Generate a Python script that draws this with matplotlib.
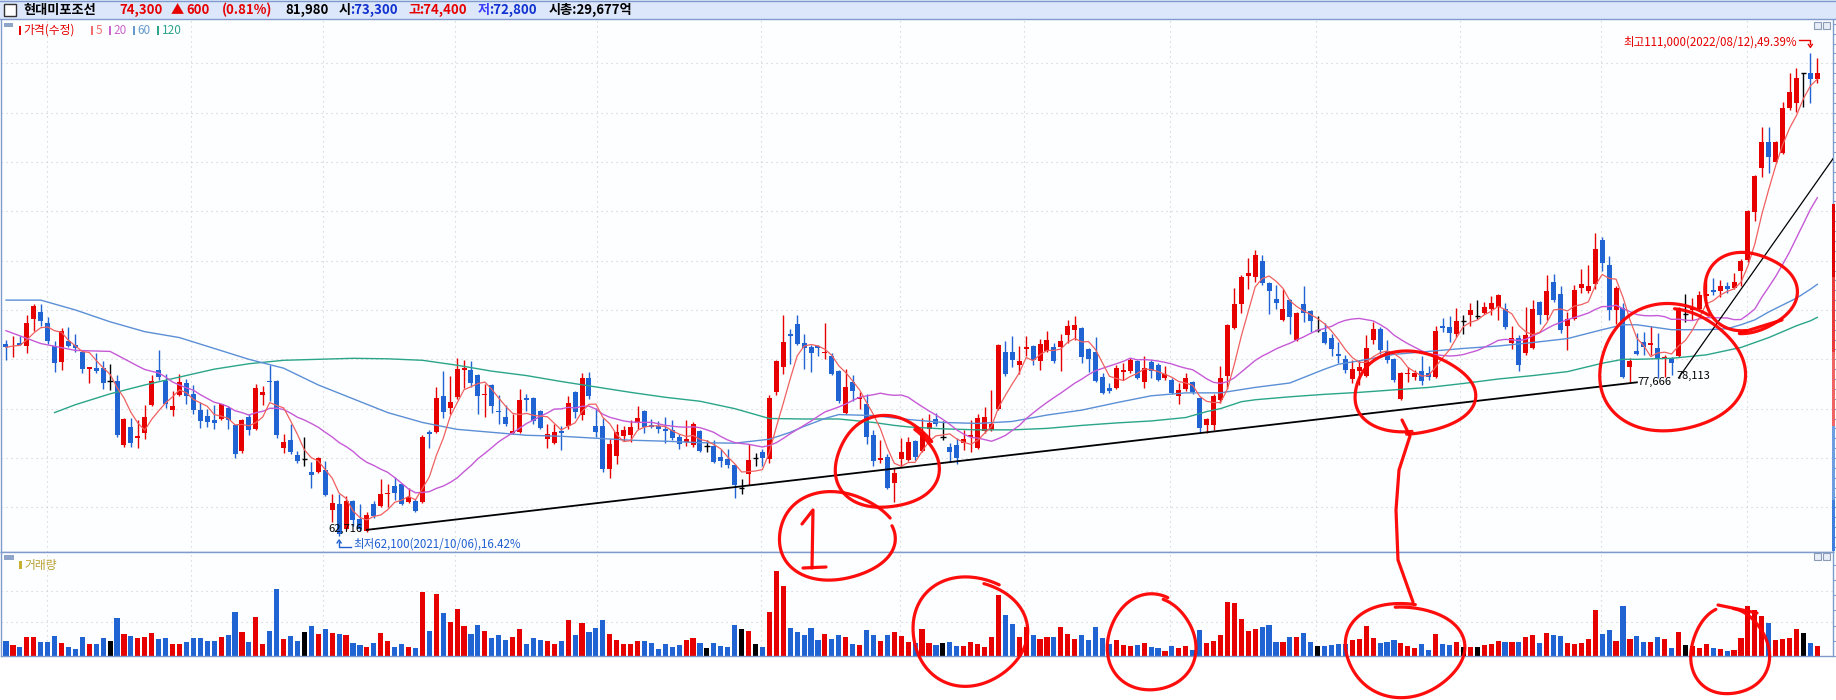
import numpy as np
import pandas as pd
import matplotlib
matplotlib.use("Agg")
import matplotlib.pyplot as plt
from matplotlib.patches import Rectangle

plt.rcParams['font.family'] = ['Noto Sans CJK KR', 'DejaVu Sans']

# ---- daily candles, thousands of won (2021/07 .. 2022/08) ----
open_k = [81.6, 81.4, 81.7, 81.3, 84.1, 84.8, 83.7, 81.3, 79.7, 81.9,
          81.4, 80.7, 79.0, 79.1, 79.1, 77.8, 77.8, 71.3, 73.1, 72.0,
          72.5, 75.4, 78.9, 77.8, 74.9, 76.4, 77.6, 76.5, 74.9, 74.3,
          73.8, 73.9, 75.1, 73.3, 70.7, 74.2, 72.9, 76.4, 77.8, 77.8,
          71.0, 71.8, 70.3, 69.9, 68.6, 68.6, 68.8, 64.7, 65.3, 62.8,
          65.6, 63.8, 62.6, 65.3, 65.1, 66.3, 67.2, 67.4, 65.5, 65.6,
          65.5, 72.6, 72.6, 76.3, 75.1, 76.2, 78.9, 78.9, 78.4, 76.4,
          77.4, 74.8, 74.2, 72.5, 72.6, 76.1, 76.1, 74.8, 71.9, 71.5,
          72.7, 73.2, 76.7, 74.4, 78.1, 73.2, 73.2, 68.9, 70.2, 72.2,
          72.3, 73.5, 74.8, 73.3, 73.2, 72.9, 72.8, 72.1, 71.6, 71.3,
          72.7, 71.2, 71.2, 70.1, 69.9, 69.3, 67.0, 68.4, 70.0, 70.6,
          69.9, 76.7, 79.2, 82.6, 83.6, 81.7, 81.2, 81.3, 80.6, 80.3,
          78.8, 74.6, 77.7, 76.0, 75.5, 72.3, 69.8, 70.1, 67.5, 69.9,
          69.8, 71.7, 70.7, 72.9, 73.9, 72.1, 71.1, 71.3, 71.5, 72.1,
          71.0, 72.7, 72.8, 75.0, 80.7, 80.7, 79.4, 81.0, 81.3, 79.8,
          80.8, 81.2, 81.2, 82.5, 83.0, 83.2, 81.0, 80.7, 78.2, 77.1,
          77.1, 78.7, 78.8, 79.8, 77.7, 79.7, 79.4, 78.1, 77.9, 76.3,
          77.0, 77.7, 76.1, 73.3, 73.3, 75.9, 78.3, 83.2, 85.6, 88.4,
          88.3, 90.0, 87.7, 86.1, 84.0, 86.0, 82.0, 85.6, 84.9, 83.0,
          82.8, 82.2, 80.5, 80.0, 78.0, 78.8, 78.3, 82.0, 83.1, 80.8,
          80.0, 76.0, 78.5, 78.2, 78.8, 78.6, 78.2, 83.4, 83.3, 82.6,
          83.9, 84.5, 84.4, 84.7, 85.1, 85.3, 85.1, 81.7, 82.2, 80.6,
          81.1, 85.8, 84.5, 87.8, 86.6, 83.4, 84.1, 87.2, 86.9, 87.6,
          92.1, 89.6, 85.0, 85.2, 79.2, 80.8, 81.8, 81.5, 81.1, 80.0,
          80.1, 80.3, 84.6, 85.0, 85.1, 86.4, 87.0, 86.9, 87.4, 87.2,
          89.0, 90.1, 94.9, 99.4, 102.0, 100.0, 100.9, 105.5, 106.0, 109.0,
          109.0, 108.4]
high_k = [82.0, 82.4, 82.4, 84.5, 85.6, 85.6, 84.3, 81.9, 83.2, 83.3,
          82.6, 80.9, 79.2, 80.6, 79.8, 79.5, 78.4, 74.1, 74.1, 73.8,
          75.4, 78.4, 80.9, 78.5, 76.8, 78.5, 78.0, 77.4, 75.7, 75.0,
          75.4, 75.5, 75.3, 73.3, 73.9, 74.5, 77.5, 77.3, 79.4, 77.9,
          72.4, 73.4, 70.7, 72.1, 69.6, 70.1, 69.7, 66.3, 66.3, 66.1,
          65.7, 65.3, 64.5, 65.6, 67.9, 67.4, 68.1, 67.4, 67.0, 65.8,
          72.3, 72.8, 77.2, 78.8, 78.3, 80.1, 79.9, 79.8, 78.5, 77.5,
          77.5, 76.4, 75.4, 74.5, 77.0, 76.5, 76.2, 74.9, 73.4, 73.4,
          73.2, 76.3, 76.8, 78.6, 78.7, 75.1, 74.1, 71.9, 73.4, 73.2,
          73.8, 75.3, 74.9, 73.9, 73.7, 74.2, 73.8, 72.4, 73.8, 73.6,
          72.8, 71.8, 71.8, 70.9, 70.9, 69.4, 67.9, 71.4, 70.5, 70.9,
          76.4, 79.9, 84.5, 83.1, 84.5, 82.6, 81.4, 81.5, 83.7, 80.6,
          78.9, 79.0, 78.4, 76.7, 76.5, 72.8, 71.8, 70.4, 69.0, 72.0,
          72.1, 71.8, 74.1, 74.5, 74.6, 73.7, 71.5, 72.0, 72.8, 73.8,
          74.5, 75.2, 76.9, 81.6, 81.9, 82.4, 81.3, 82.4, 81.5, 82.1,
          82.9, 81.7, 82.6, 84.0, 84.4, 83.3, 81.1, 82.3, 78.6, 77.6,
          79.4, 79.6, 80.1, 79.9, 80.3, 79.9, 79.6, 79.3, 78.1, 77.6,
          78.6, 77.8, 76.2, 74.1, 76.5, 79.3, 83.6, 87.2, 88.5, 90.3,
          91.1, 90.6, 87.8, 87.5, 87.1, 86.1, 84.8, 87.4, 85.0, 84.4,
          83.7, 82.6, 81.8, 80.4, 79.9, 79.9, 82.5, 83.8, 83.3, 82.0,
          80.1, 78.7, 79.2, 78.9, 80.3, 79.3, 83.4, 84.2, 84.4, 85.2,
          84.5, 85.7, 86.0, 85.8, 86.4, 86.6, 85.7, 83.4, 82.5, 85.3,
          86.0, 85.9, 88.5, 88.6, 87.4, 84.8, 87.5, 89.2, 89.6, 92.8,
          92.4, 90.5, 87.4, 85.7, 80.1, 82.7, 82.8, 83.4, 82.7, 80.4,
          80.2, 85.3, 86.6, 86.2, 86.9, 88.1, 88.2, 88.0, 87.8, 88.7,
          90.2, 95.1, 98.7, 103.5, 103.5, 102.1, 106.1, 109.0, 109.5, 109.0,
          111.0, 110.5]
low_k = [79.9, 80.2, 81.4, 80.6, 82.9, 83.4, 81.6, 78.7, 78.9, 81.2,
         80.7, 78.6, 77.6, 78.6, 77.0, 76.9, 72.1, 71.1, 71.1, 71.0,
         71.9, 75.3, 77.9, 75.1, 74.3, 76.3, 75.5, 74.5, 73.0, 73.1,
         72.9, 73.8, 72.9, 70.0, 70.5, 72.3, 72.8, 75.4, 75.8, 72.0,
         70.5, 70.4, 69.5, 69.2, 67.0, 68.5, 66.1, 63.5, 62.1, 62.7,
         63.1, 62.6, 62.5, 63.9, 65.0, 65.0, 65.7, 65.2, 65.4, 64.5,
         65.4, 71.0, 72.5, 74.1, 74.5, 76.0, 77.1, 77.2, 74.5, 74.2,
         74.6, 73.4, 73.2, 72.4, 72.5, 74.8, 73.4, 72.9, 71.0, 71.4,
         70.8, 72.9, 74.1, 73.8, 76.0, 72.1, 68.6, 68.0, 69.4, 71.7,
         71.6, 72.9, 72.5, 73.0, 72.5, 71.5, 71.8, 70.9, 71.2, 71.1,
         70.6, 70.6, 69.5, 69.1, 69.0, 65.9, 66.3, 67.3, 69.2, 69.2,
         69.5, 76.4, 78.5, 79.5, 81.5, 79.0, 78.7, 80.3, 80.0, 78.4,
         75.6, 74.5, 75.8, 75.0, 71.4, 69.2, 69.5, 66.9, 65.5, 69.2,
         69.7, 69.8, 70.6, 72.0, 73.2, 71.8, 69.6, 69.4, 70.8, 70.6,
         70.9, 72.5, 72.7, 74.9, 78.3, 79.2, 78.5, 80.3, 79.4, 78.9,
         80.7, 79.6, 78.8, 81.7, 82.0, 79.6, 78.7, 77.7, 76.5, 76.6,
         77.0, 77.9, 78.6, 78.0, 77.1, 78.1, 77.8, 77.9, 76.5, 75.5,
         76.8, 76.5, 72.6, 72.5, 72.8, 75.6, 77.0, 83.1, 84.7, 87.1,
         87.8, 87.5, 84.6, 85.1, 83.9, 82.6, 81.9, 83.8, 82.8, 82.8,
         81.6, 80.3, 79.6, 78.6, 77.6, 77.4, 78.2, 81.6, 80.5, 79.6,
         77.7, 75.9, 77.7, 77.9, 77.4, 77.9, 78.1, 82.8, 81.8, 82.3,
         82.6, 83.4, 84.1, 84.6, 84.5, 84.0, 83.1, 81.0, 78.8, 80.4,
         81.0, 83.6, 84.0, 85.8, 82.7, 80.9, 84.0, 86.7, 86.7, 87.1,
         88.9, 84.0, 83.6, 78.1, 77.7, 80.4, 80.4, 80.4, 78.1, 78.2,
         78.4, 80.2, 83.8, 84.0, 84.9, 85.3, 86.5, 86.3, 86.7, 87.1,
         87.4, 89.9, 94.0, 98.5, 98.9, 99.9, 100.8, 105.3, 105.1, 105.6,
         106.0, 108.0]
close_k = [81.2, 81.5, 81.5, 83.7, 85.4, 83.9, 81.9, 79.6, 82.9, 81.3,
           81.1, 79.0, 79.2, 78.8, 77.6, 77.8, 72.3, 73.9, 71.5, 72.2,
           74.2, 77.8, 78.2, 75.5, 75.3, 77.7, 76.3, 74.9, 73.7, 73.6,
           73.5, 75.5, 73.8, 70.4, 73.8, 72.8, 77.1, 76.7, 77.7, 72.3,
           71.6, 70.6, 69.7, 69.9, 68.3, 70.0, 66.2, 65.4, 62.3, 65.6,
           63.7, 62.8, 64.2, 64.1, 66.3, 66.4, 66.5, 65.3, 66.0, 64.6,
           72.1, 72.4, 76.1, 74.7, 75.7, 79.0, 79.1, 77.6, 76.3, 76.5,
           75.3, 74.7, 73.4, 72.7, 75.9, 75.9, 73.7, 73.0, 72.4, 72.6,
           72.5, 75.6, 74.7, 78.1, 76.3, 72.6, 68.9, 71.4, 72.6, 72.8,
           73.1, 74.1, 73.1, 73.1, 72.9, 72.7, 72.0, 71.4, 71.9, 73.4,
           70.7, 71.2, 69.6, 69.7, 69.3, 67.3, 67.0, 69.8, 70.0, 70.0,
           76.1, 79.8, 81.8, 82.4, 81.6, 81.1, 80.6, 81.1, 80.7, 78.5,
           75.8, 77.2, 76.8, 76.2, 72.1, 69.7, 70.0, 67.0, 68.5, 70.6,
           71.6, 70.1, 72.6, 73.5, 73.4, 72.1, 70.6, 70.0, 71.9, 72.3,
           74.1, 74.2, 73.4, 81.5, 78.5, 79.9, 79.8, 81.2, 79.9, 81.6,
           82.0, 79.8, 81.9, 83.4, 83.5, 80.2, 80.0, 77.8, 76.6, 76.8,
           79.1, 78.9, 79.9, 78.1, 79.1, 78.8, 77.9, 78.5, 76.6, 76.9,
           78.1, 76.7, 73.0, 74.0, 76.3, 78.1, 83.5, 85.6, 88.3, 88.7,
           90.6, 87.7, 86.9, 85.7, 85.1, 84.3, 84.7, 84.7, 83.9, 83.0,
           81.7, 81.0, 80.3, 78.9, 79.0, 79.2, 81.1, 83.1, 80.9, 79.9,
           77.9, 78.6, 78.6, 78.6, 77.8, 78.2, 82.9, 83.2, 82.7, 83.9,
           83.9, 85.0, 84.4, 85.3, 85.7, 86.5, 83.3, 82.2, 79.4, 82.5,
           85.1, 84.5, 86.9, 86.0, 83.0, 84.1, 87.0, 87.6, 87.4, 91.2,
           89.8, 85.0, 87.2, 78.2, 79.8, 80.5, 81.2, 81.7, 80.0, 80.2,
           79.6, 85.2, 84.6, 85.2, 86.5, 86.6, 86.8, 87.4, 87.1, 87.8,
           90.0, 95.0, 98.6, 102.0, 100.5, 102.0, 105.5, 107.1, 108.5, 109.0,
           108.4, 109.0]
# trading volume, thousands of shares
volume_k = [146, 105, 86, 181, 181, 133, 133, 190, 124, 86,
            67, 181, 114, 114, 171, 143, 362, 209, 190, 171,
            181, 219, 162, 171, 114, 114, 133, 171, 171, 143,
            143, 181, 200, 419, 228, 133, 371, 114, 238, 638,
            162, 190, 143, 228, 286, 209, 257, 219, 209, 200,
            124, 105, 86, 124, 219, 143, 86, 114, 86, 76,
            609, 238, 590, 409, 324, 447, 286, 209, 295, 238,
            171, 200, 152, 181, 257, 114, 171, 152, 143, 114,
            143, 343, 200, 314, 228, 267, 343, 209, 152, 114,
            114, 143, 143, 124, 67, 114, 86, 105, 152, 171,
            124, 76, 124, 95, 86, 295, 257, 238, 114, 86,
            419, 812, 666, 267, 228, 200, 267, 152, 209, 162,
            200, 181, 114, 105, 247, 200, 143, 200, 228, 190,
            133, 124, 257, 124, 105, 124, 133, 95, 95, 133,
            114, 86, 181, 581, 390, 305, 181, 276, 200, 162,
            181, 181, 276, 209, 162, 200, 152, 276, 171, 114,
            152, 105, 95, 105, 124, 86, 76, 48, 95, 76,
            95, 57, 247, 124, 143, 200, 514, 505, 352, 238,
            257, 276, 295, 133, 133, 181, 181, 219, 133, 95,
            95, 105, 114, 114, 152, 162, 286, 171, 124, 133,
            152, 124, 95, 76, 114, 57, 209, 114, 105, 133,
            86, 86, 86, 105, 114, 143, 133, 133, 133, 181,
            200, 124, 219, 200, 190, 124, 114, 124, 162, 438,
            209, 247, 143, 476, 162, 190, 133, 133, 181, 162,
            76, 228, 105, 95, 76, 114, 76, 67, 48, 57,
            171, 476, 438, 381, 314, 152, 162, 171, 257, 219,
            124, 95]

ma20_head_idx = [0, 5, 10, 15]
ma20_head_k = [82.9, 81.6, 80.9, 80.8]
ma60_idx = [0, 5, 10, 15, 20, 25, 30, 35, 40, 45, 50, 55, 60, 65, 70, 75, 80, 85, 90, 95,
            100, 105, 110, 113, 115, 118, 120, 125, 128, 130, 135, 140, 145, 150, 155, 160,
            165, 170, 175, 180, 185, 190, 192, 195, 200, 205, 210, 215, 220, 225, 230, 233,
            235, 240, 245, 248, 250, 252, 254, 256, 258, 260, 261]
ma60_k = [86.0, 86.0, 85.0, 83.8, 82.8, 82.2, 81.1, 80.0, 79.1, 77.4, 76.0, 74.6, 73.6, 72.9,
          72.6, 72.3, 72.2, 72.0, 71.8, 71.7, 71.55, 71.5, 71.9, 72.6, 73.2, 74.0, 74.4, 74.3,
          74.05, 73.9, 73.6, 73.5, 73.7, 74.35, 74.85, 75.6, 76.3, 76.6, 76.6, 77.15, 77.6,
          79.0, 79.5, 79.85, 80.5, 80.8, 81.1, 81.35, 81.7, 82.1, 83.0, 83.5, 83.5, 83.0, 83.0,
          83.1, 83.5, 84.0, 84.8, 85.5, 86.2, 87.1, 87.6]
ma120_idx = [7, 10, 15, 20, 25, 30, 35, 40, 45, 50, 55, 60, 65, 70, 75, 80, 85, 90, 95, 100,
             105, 110, 115, 120, 125, 128, 130, 135, 140, 145, 150, 155, 160, 165, 170, 173,
             175, 178, 180, 185, 190, 195, 200, 205, 210, 215, 220, 225, 230, 233, 235, 240,
             245, 248, 250, 252, 254, 256, 258, 260, 261]
ma120_k = [74.6, 75.4, 76.5, 77.4, 78.2, 79.0, 79.55, 79.9, 80.0, 80.1, 80.05, 79.9, 79.4,
           78.8, 78.35, 77.75, 77.2, 76.65, 76.15, 75.75, 75.0, 74.0, 73.95, 73.95, 73.6,
           73.3, 73.15, 72.95, 72.85, 72.85, 73.0, 73.3, 73.55, 73.75, 74.1, 74.7, 75.0, 75.7,
           75.9, 76.2, 76.45, 76.65, 76.9, 77.15, 77.55, 78.0, 78.35, 78.75, 79.6, 80.0, 80.0,
           80.1, 80.45, 80.9, 81.2, 81.7, 82.2, 82.8, 83.4, 83.9, 84.25]

# trend lines (candle index, price)
trend1 = [(52, 62716), (235, 77666)]
trend2 = [(241, 78113), (263.3, 100370)]
month_lines = [5.9, 26.7, 45.7, 64.7, 85.2, 108.8, 128.8, 146.7, 167.7, 188.8, 209.5, 229.8, 250.9]

current_price = 74300
high_date = '2022/08/12'
low_date = '2021/10/06'

# ---- figure ----
W, H = 1836, 700
fig = plt.figure(figsize=(W / 100, H / 100), dpi=100)
fig.patch.set_facecolor('white')

RED, BLUE, BORDER, GRID = '#e60000', '#1f64d2', '#7f9bcc', '#cccccc'
PX_L, PX_R = 1, 1833
P_TOP, P_BOT, V_BOT = 19, 552, 656

ax = fig.add_axes([PX_L / W, 1 - P_BOT / H, (PX_R - PX_L) / W, (P_BOT - P_TOP) / H])
axv = fig.add_axes([PX_L / W, 1 - V_BOT / H, (PX_R - PX_L) / W, (V_BOT - P_BOT) / H], sharex=ax)

o = np.array(open_k) * 1000
h = np.array(high_k) * 1000
l = np.array(low_k) * 1000
c = np.array(close_k) * 1000
vol = np.array(volume_k)
idx = np.arange(len(c))
ok, ck = np.array(open_k), np.array(close_k)
cols = np.where(ck > ok, RED, np.where(ck < ok, BLUE, 'black'))
flat = ck == ok

for a in (ax, axv):
    a.set_facecolor('#fdfeff')
    for s in a.spines.values():
        s.set_color(BORDER)
        s.set_linewidth(1)
    a.spines['top'].set_visible(a is axv)
    a.tick_params(axis='x', bottom=False, labelbottom=False)
    a.yaxis.tick_right()
    a.tick_params(axis='y', direction='out', length=3, color=BORDER, labelright=False)
    for m in month_lines:
        a.axvline(m, color=GRID, lw=0.8, ls=(0, (1, 3.5)), zorder=0)

ax.set_xlim(-0.72, 263.26)
ax.set_ylim(60470, 114490)
ax.set_yticks(np.arange(61000, 114001, 1000))
for g in range(65000, 110001, 5000):
    ax.axhline(g, color=GRID, lw=0.8, ls=(0, (1, 3.5)), zorder=0)

# candles
ax.vlines(idx, l, h, colors=cols, lw=1, zorder=2)
ax.bar(idx, np.abs(c - o), bottom=np.minimum(o, c), width=0.72, color=cols, lw=0, zorder=2)
ax.hlines(c[flat], idx[flat] - 0.38, idx[flat] + 0.38, colors='black', lw=1, zorder=2)

# moving averages
ma5 = pd.Series(c).rolling(5, min_periods=1).mean()
ma20_tail = pd.Series(c).rolling(20).mean().iloc[19:]
ma20_x = ma20_head_idx + list(ma20_tail.index)
ma20_y = list(np.array(ma20_head_k) * 1000) + list(ma20_tail.values)
ax.plot(ma120_idx, np.array(ma120_k) * 1000, color='#2aa58a', lw=1, zorder=3)
ax.plot(ma60_idx, np.array(ma60_k) * 1000, color='#5b8fd6', lw=1, zorder=3)
ax.plot(ma20_x, ma20_y, color='#c65ad6', lw=1, zorder=3)
ax.plot(idx, ma5, color='#f06060', lw=0.9, zorder=3)

# trend lines
ax.plot(*zip(*trend1), color='black', lw=1.3, zorder=4)
ax.plot(*zip(*trend2), color='black', lw=0.9, zorder=4)

# volume
axv.bar(idx, vol, width=0.74, color=cols, lw=0, zorder=2)
axv.set_ylim(0, 990)
axv.set_yticks(np.arange(0, 990, 145))
for g in (324, 619):
    axv.axhline(g, color=GRID, lw=0.8, ls=(0, (1, 3.5)), zorder=0)

# ---- overlay in pixel coordinates ----
ov = fig.add_axes([0, 0, 1, 1])
ov.set_xlim(0, W)
ov.set_ylim(H, 0)
ov.axis('off')
ov.patch.set_alpha(0)


def to_px(a, x, y):
    dx, dy = a.transData.transform((x, y))
    return dx, H - dy


# header bar
ov.add_patch(Rectangle((0, 0), W, 18.5, facecolor='#dde7fb', edgecolor='none'))
ov.plot([0, W], [0.5, 0.5], color=BORDER, lw=1)
ov.plot([0, W], [18.5, 18.5], color=BORDER, lw=1)
ov.add_patch(Rectangle((3.5, 3.5), 12, 12, facecolor='white', edgecolor='#333333', lw=1))
head = [(23, '현대미포조선', 'black'), (119, '74,300', RED), (171, '▲', RED), (186, '600', RED),
        (222, '(0.81%)', RED), (285, '81,980', 'black'), (339, '시', 'black'),
        (350, ':73,300', '#1030d0'), (408, '고', RED), (419, ':74,400', RED),
        (478, '저', '#3b3bff'), (489, ':72,800', '#1030d0'), (549, '시총:29,677억', 'black')]
for x, s, col in head:
    ov.text(x, 10, s, ha='left', va='center', fontsize=9.5, fontweight='bold', color=col)

# price legend
ov.add_patch(Rectangle((4, 22.5), 9, 4.5, facecolor='#8ea4c8', edgecolor='none'))
legend_items = [(18.5, '가격(수정)', RED, RED), (90.5, '5', '#f07070', '#f07070'),
                (108.5, '20', '#cc66cc', '#cc66cc'), (132.5, '60', '#6699cc', '#6699cc'),
                (156.5, '120', '#2aa58a', '#2aa58a')]
for x, s, mc, tc in legend_items:
    ov.add_patch(Rectangle((x, 26), 2.6, 9, facecolor=mc, edgecolor='none'))
    ov.text(x + 5, 30.5, s, ha='left', va='center', fontsize=8.5, color=tc)

# volume legend
ov.add_patch(Rectangle((4, 555), 10, 5, facecolor='#8ea4c8', edgecolor='none'))
ov.add_patch(Rectangle((19, 561), 2.6, 8, facecolor='#c8b030', edgecolor='none'))
ov.text(24, 565, '거래량', ha='left', va='center', fontsize=8.5, color='#b8a030')

# small window buttons
for by in (22, 553):
    for bx in (1814, 1823):
        ov.add_patch(Rectangle((bx, by), 7, 7, facecolor='#e8eef8', edgecolor='#8a9bb5', lw=0.8))

# right edge price strip
strip = [(204, 277, '#e00000'), (277, 352, '#e83a3a'), (352, 426, '#ef6464'),
         (426, 500, '#6f9ee0'), (500, 551, '#3d7fdc')]
for y0, y1, col in strip:
    ov.add_patch(Rectangle((1832, y0), 3, y1 - y0, facecolor=col, edgecolor='none'))

# high / low markers
hi_i = int(np.argmax(h))
lo_i = int(np.argmin(l))
hx, hy = to_px(ax, hi_i, h[hi_i])
lx, ly = to_px(ax, lo_i, l[lo_i])
hi_pct = (h[hi_i] - current_price) / current_price * 100
lo_pct = (current_price - l[lo_i]) / current_price * 100
ov.text(hx - 13, hy - 11, f'최고{h[hi_i]:,.0f}({high_date}),{hi_pct:.2f}%', ha='right',
        va='center', fontsize=8.3, color=RED)
ov.plot([hx - 11, hx, hx], [hy - 13, hy - 13, hy - 9], color=RED, lw=1)
ov.plot([hx - 2, hx, hx + 2], [hy - 9, hy - 6, hy - 9], color=RED, lw=1)
ov.text(lx + 14, ly + 8, f'최저{l[lo_i]:,.0f}({low_date}),{lo_pct:.2f}%', ha='left',
        va='center', fontsize=8.3, color='#1f5fd0')
ov.plot([lx + 12, lx, lx], [ly + 11, ly + 11, ly + 6], color='#1f5fd0', lw=1)
ov.plot([lx - 2, lx, lx + 2], [ly + 7, ly + 4, ly + 7], color='#1f5fd0', lw=1)

# trend line labels
t1s = to_px(ax, *trend1[0])
t1e = to_px(ax, *trend1[1])
t2s = to_px(ax, *trend2[0])
ov.text(t1s[0] - 4, t1s[1] - 1, f'{trend1[0][1]:,}', ha='right', va='center', fontsize=8, color='black')
ov.text(t1e[0] + 1, t1e[1], f'{trend1[1][1]:,}', ha='left', va='center', fontsize=8, color='black')
ov.text(t2s[0] - 2, t2s[1] - 2, f'{trend2[0][1]:,}', ha='left', va='center', fontsize=8, color='black')


# hand drawn red marks
def loop(cx, cy, rx, ry, start, sweep, shrink=0.92, wob=0.04, ph=0.0):
    t = np.radians(np.linspace(start, start - sweep, 240))
    k = np.linspace(1.0, shrink, t.size) * (1 + wob * np.sin(3 * t + ph))
    return cx + rx * k * np.cos(t), cy + ry * k * np.sin(t)


pen = dict(color='#ff0000', lw=2.3, solid_capstyle='round', solid_joinstyle='round', alpha=0.95)
loops = [(887, 464, 54, 47, -30, 385, 0.93, 0.05, 0.5),
         (836, 537, 60, 45, -25, 350, 0.95, 0.04, 1.2),
         (970, 632, 60, 56, -60, 375, 0.92, 0.03, 2.0),
         (1152, 644, 46, 49, -70, 365, 0.93, 0.03, 0.3),
         (1412, 393, 62, 42, 95, 365, 0.94, 0.05, 1.0),
         (1405, 650, 62, 48, -80, 380, 0.92, 0.04, 2.5),
         (1672, 370, 76, 65, -60, 388, 0.92, 0.04, 0.8),
         (1748, 292, 48, 41, 100, 368, 0.93, 0.05, 1.7),
         (1730, 652, 40, 44, -110, 335, 0.96, 0.04, 0.4)]
for p in loops:
    ov.plot(*loop(*p), **pen)
strokes = [[(802, 524), (813, 510), (812, 568)],
           [(803, 568), (826, 567)],
           [(1402, 420), (1410, 436), (1399, 470), (1396, 510), (1398, 560), (1413, 602)],
           [(1740, 333), (1782, 320)],
           [(1718, 605), (1757, 613)]]
for s in strokes:
    ov.plot(*zip(*s), **pen)

fig.savefig('out.png', dpi=100)
